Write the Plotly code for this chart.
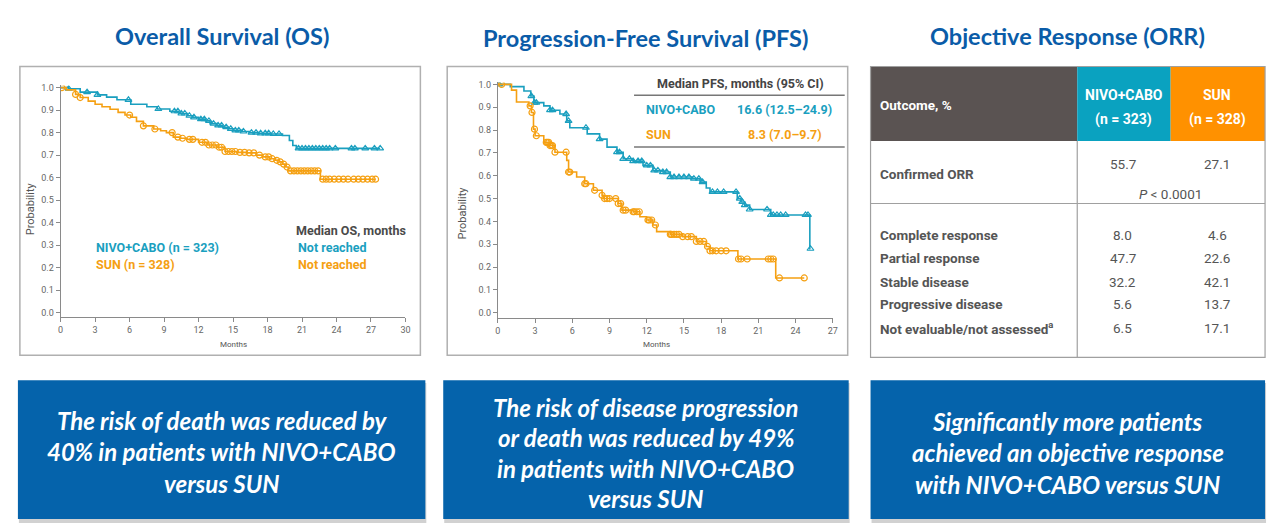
import plotly.graph_objects as go

# ---------------- DATA ----------------
# Overall survival (months, probability) step points
OS_NC_T = [0, 0.7, 1.7, 3.2, 4.0, 4.9, 6.1, 7.5, 8.4, 9.5, 10.3, 11.0, 11.5, 12.0, 12.6, 13.0, 13.6, 14.1, 14.6, 15.0, 15.8, 16.4, 17.2, 18.2, 19.3, 19.9, 20.2, 20.5, 27.8]
OS_NC_S = [1.0, 0.995, 0.98, 0.968, 0.958, 0.946, 0.926, 0.915, 0.905, 0.895, 0.885, 0.875, 0.868, 0.86, 0.852, 0.84, 0.832, 0.824, 0.817, 0.81, 0.805, 0.80, 0.797, 0.794, 0.787, 0.765, 0.743, 0.73, 0.73]
OS_NC_CENS = [0.7, 2.3, 3.2, 5.9, 8.5, 9.9, 10.2, 10.5, 10.8, 11.2, 11.6, 12.2, 12.5, 12.9, 13.3, 13.7, 14.0, 14.4, 14.8, 15.2, 15.5, 15.9, 16.6, 17.0, 17.4, 17.8, 18.1, 18.5, 19.0, 20.7, 21.0, 21.3, 21.6, 21.9, 22.2, 22.5, 22.8, 23.1, 23.4, 23.9, 25.3, 25.6, 26.5, 27.3, 27.8]

OS_SUN_T = [0, 0.5, 1.3, 1.7, 2.4, 3.0, 3.6, 4.3, 5.0, 5.6, 6.1, 6.6, 7.2, 8.1, 8.7, 9.2, 9.8, 10.4, 11.0, 12.0, 12.8, 13.6, 14.3, 15.3, 16.2, 17.0, 17.6, 18.2, 18.7, 19.0, 19.3, 19.6, 19.8, 22.6, 27.4]
OS_SUN_S = [1.0, 0.99, 0.97, 0.956, 0.94, 0.926, 0.915, 0.904, 0.89, 0.878, 0.868, 0.85, 0.83, 0.816, 0.808, 0.80, 0.78, 0.775, 0.77, 0.757, 0.745, 0.735, 0.716, 0.712, 0.71, 0.70, 0.692, 0.684, 0.677, 0.67, 0.66, 0.647, 0.63, 0.593, 0.593]
OS_SUN_CENS = [0.1, 1.3, 1.7, 6.0, 7.2, 8.2, 9.7, 10.2, 10.6, 11.2, 11.5, 12.3, 12.6, 12.9, 13.2, 13.5, 13.8, 14.0, 14.3, 14.6, 14.9, 15.2, 15.6, 16.0, 16.4, 16.8, 17.3, 17.8, 18.1, 18.4, 18.8, 19.1, 19.4, 19.7, 20.0, 20.3, 20.6, 20.9, 21.2, 21.5, 21.8, 22.1, 22.4, 22.8, 23.1, 23.4, 23.8, 24.2, 24.6, 25.0, 25.5, 25.9, 26.3, 26.7, 27.1, 27.4]

# Progression-free survival
PFS_NC_T = [0, 1.0, 2.1, 2.65, 2.9, 3.7, 4.2, 5.0, 5.55, 5.8, 7.2, 8.2, 8.8, 9.6, 10.1, 10.9, 11.7, 12.5, 13.3, 13.9, 15.7, 16.3, 16.8, 17.1, 19.3, 19.6, 19.9, 20.3, 22.0, 25.15, 25.2]
PFS_NC_S = [1.0, 0.99, 0.971, 0.949, 0.92, 0.906, 0.887, 0.87, 0.84, 0.81, 0.783, 0.76, 0.725, 0.703, 0.674, 0.664, 0.645, 0.623, 0.616, 0.594, 0.587, 0.572, 0.546, 0.529, 0.5, 0.485, 0.471, 0.452, 0.428, 0.28, 0.28]
PFS_NC_CENS = [0.1, 2.7, 2.95, 3.1, 4.2, 4.4, 5.5, 5.7, 7.1, 8.2, 9.6, 9.8, 10.1, 10.6, 10.9, 11.3, 11.6, 12.0, 12.3, 12.6, 12.9, 13.3, 13.6, 13.9, 14.2, 14.6, 15.0, 15.4, 15.8, 16.2, 16.5, 17.3, 17.7, 18.2, 19.2, 19.5, 19.7, 19.9, 20.3, 21.7, 22.0, 22.2, 22.5, 22.8, 23.2, 24.8, 25.0, 25.2]

PFS_SUN_T = [0, 1.1, 1.5, 2.5, 2.7, 2.87, 3.0, 3.7, 4.2, 4.6, 5.55, 5.7, 6.35, 7.0, 7.7, 8.4, 8.5, 9.7, 10.0, 10.9, 11.45, 12.0, 12.5, 12.8, 13.9, 14.9, 16.0, 16.8, 17.1, 19.35, 22.4, 24.7]
PFS_SUN_S = [1.0, 0.975, 0.923, 0.906, 0.877, 0.804, 0.775, 0.746, 0.732, 0.703, 0.667, 0.616, 0.594, 0.565, 0.536, 0.514, 0.5, 0.478, 0.449, 0.442, 0.42, 0.406, 0.384, 0.355, 0.343, 0.333, 0.312, 0.29, 0.271, 0.235, 0.152, 0.152]
PFS_SUN_CENS = [0.3, 2.6, 2.75, 2.95, 3.1, 3.9, 4.0, 4.1, 4.2, 4.3, 4.4, 4.6, 5.5, 5.7, 5.8, 7.0, 7.1, 7.8, 8.4, 8.6, 8.8, 9.0, 9.5, 9.7, 9.9, 10.1, 10.3, 10.9, 11.0, 11.2, 11.4, 12.1, 12.2, 12.4, 12.7, 13.9, 14.0, 14.2, 14.4, 14.6, 14.9, 15.3, 15.6, 16.0, 16.3, 16.6, 16.9, 17.1, 17.3, 17.6, 18.0, 18.4, 19.4, 19.6, 20.1, 21.8, 22.0, 22.2, 22.7, 24.7]

# Objective response table
ORR_HEADERS = ["Outcome, %", ["NIVO+CABO", "(n = 323)"], ["SUN", "(n = 328)"]]
ORR_MAIN = ("Confirmed ORR", "55.7", "27.1", "<i>P</i> < 0.0001")
ORR_ROWS = ["Complete response", "Partial response", "Stable disease", "Progressive disease", "Not evaluable/not assessed<sup>a</sup>"]
ORR_NIVO = ["8.0", "47.7", "32.2", "5.6", "6.5"]
ORR_SUN = ["4.6", "22.6", "42.1", "13.7", "17.1"]

TITLES = ["Overall Survival (OS)", "Progression-Free Survival (PFS)", "Objective Response (ORR)"]
BOX_LINES = [
    ["The risk of death was reduced by", "40% in patients with NIVO+CABO", "versus SUN"],
    ["The risk of disease progression", "or death was reduced by 49%", "in patients with NIVO+CABO", "versus SUN"],
    ["Significantly more patients", "achieved an objective response", "with NIVO+CABO versus SUN"],
]

# ---------------- STYLE ----------------
W, H = 1280, 532
TEAL = "#1a9fbf"
ORANGE = "#f5a012"
TEAL_HDR = "#0aa2c0"
ORANGE_HDR = "#ff9100"
DARK_HDR = "#5a5352"
BLUE = "#0a5ca8"
BOX = "#0563ab"
GRAY_TXT = "#555555"
NARROW = "Liberation Sans Narrow, Arial Narrow, Roboto, sans-serif"
TITLE_FONT = "Lato, Open Sans, sans-serif"


def px(x):
    return x / W


def py(y):
    return 1 - y / H


def step_val(ts, ss, t):
    v = ss[0]
    for ti, si in zip(ts, ss):
        if ti <= t:
            v = si
        else:
            break
    return v


fig = go.Figure()


def km(ts, ss, cens, color, symbol, xa, ya):
    fig.add_trace(go.Scatter(x=ts, y=ss, mode="lines", line=dict(color=color, width=1.6, shape="hv"),
                             xaxis=xa, yaxis=ya, showlegend=False, hoverinfo="skip"))
    fig.add_trace(go.Scatter(x=cens, y=[step_val(ts, ss, c) for c in cens], mode="markers",
                             marker=dict(symbol=symbol, size=6, color=color, line=dict(color=color, width=1.2)),
                             xaxis=xa, yaxis=ya, showlegend=False, hoverinfo="skip"))


km(OS_NC_T, OS_NC_S, OS_NC_CENS, TEAL, "triangle-up-open", "x", "y")
km(OS_SUN_T, OS_SUN_S, OS_SUN_CENS, ORANGE, "circle-open", "x", "y")
km(PFS_NC_T, PFS_NC_S, PFS_NC_CENS, TEAL, "triangle-up-open", "x2", "y2")
km(PFS_SUN_T, PFS_SUN_S, PFS_SUN_CENS, ORANGE, "circle-open", "x2", "y2")

axis_common = dict(showline=True, linecolor="#8a8a8a", linewidth=1.2, ticks="outside", ticklen=4,
                   tickcolor="#8a8a8a", showgrid=False, zeroline=False,
                   tickfont=dict(family=NARROW, size=9, color="#666"))

fig.update_layout(
    width=W, height=H, margin=dict(l=0, r=0, t=0, b=0), autosize=False,
    paper_bgcolor="white", plot_bgcolor="white",
    xaxis=dict(domain=[px(58), px(405)], range=[0, 30], tickvals=list(range(0, 31, 3)), anchor="y", **axis_common),
    yaxis=dict(domain=[py(316), py(83)], range=[-0.018, 1.01], tickvals=[i / 10 for i in range(11)],
               tickformat=".1f", anchor="x", **axis_common),
    xaxis2=dict(domain=[px(498), px(835)], range=[0, 27], tickvals=list(range(0, 28, 3)), anchor="y2", **axis_common),
    yaxis2=dict(domain=[py(317), py(80)], range=[-0.0217, 1.0087], tickvals=[i / 10 for i in range(11)],
                tickformat=".1f", anchor="x2", **axis_common),
)

shapes = []
ann = []


def rect(x0, y0, x1, y1, fill=None, line=None, lw=1):
    shapes.append(dict(type="rect", xref="paper", yref="paper", x0=px(x0), x1=px(x1), y0=py(y1), y1=py(y0),
                       fillcolor=fill if fill else "rgba(0,0,0,0)",
                       line=dict(color=line if line else "rgba(0,0,0,0)", width=lw), layer="below"))


def hline(x0, x1, y, color, lw=1):
    shapes.append(dict(type="line", xref="paper", yref="paper", x0=px(x0), x1=px(x1), y0=py(y), y1=py(y),
                       line=dict(color=color, width=lw)))


def vline(x, y0, y1, color, lw=1):
    shapes.append(dict(type="line", xref="paper", yref="paper", x0=px(x), x1=px(x), y0=py(y0), y1=py(y1),
                       line=dict(color=color, width=lw)))


def text(x, y, s, size, color, family=NARROW, anchor="left", angle=0):
    ann.append(dict(xref="paper", yref="paper", x=px(x), y=py(y), text=s, showarrow=False,
                    xanchor=anchor, yanchor="middle", textangle=angle,
                    font=dict(family=family, size=size, color=color)))


# Titles
text(220, 33, "<b>" + TITLES[0] + "</b>", 23.5, BLUE, TITLE_FONT, "center")
text(647, 35, "<b>" + TITLES[1] + "</b>", 23.5, BLUE, TITLE_FONT, "center")
text(1071, 33, "<b>" + TITLES[2] + "</b>", 23.5, BLUE, TITLE_FONT, "center")

# Panel frames
rect(17, 64, 420, 355, line="#b0b0b0", lw=1.5)
rect(447, 64, 850, 355, line="#b0b0b0", lw=1.5)

# OS panel texts
text(28, 207, "Probability", 11, GRAY_TXT, angle=-90, anchor="center")
text(232, 344, "Months", 8, GRAY_TXT, anchor="center")
text(92, 246, "<b>NIVO+CABO (n = 323)</b>", 12.5, TEAL)
text(92, 263, "<b>SUN (n = 328)</b>", 12.5, ORANGE)
text(293, 229, "<b>Median OS, months</b>", 12.5, "#4a4a4a")
text(295, 246, "<b>Not reached</b>", 12.5, TEAL)
text(295, 263, "<b>Not reached</b>", 12.5, ORANGE)

# PFS panel texts
text(462, 212, "Probability", 11, GRAY_TXT, angle=-90, anchor="center")
text(658, 344, "Months", 8, GRAY_TXT, anchor="center")
text(742, 81, "<b>Median PFS, months (95% CI)</b>", 12.5, "#444", anchor="center")
hline(635, 847, 93, "#777", 1.5)
text(645, 107, "<b>NIVO+CABO</b>", 12.5, TEAL)
text(836, 107, "<b>16.6 (12.5–24.9)</b>", 12.5, TEAL, anchor="right")
text(645, 132, "<b>SUN</b>", 12.5, ORANGE)
text(826, 132, "<b>8.3 (7.0–9.7)</b>", 12.5, ORANGE, anchor="right")
hline(635, 847, 145, "#777", 1.5)

# ORR table
rect(873, 64, 1081, 139, fill=DARK_HDR)
rect(1081, 64, 1175, 139, fill=TEAL_HDR)
rect(1175, 64, 1270, 139, fill=ORANGE_HDR)
rect(873, 64, 1270, 357, line="#a0a0a0", lw=1.2)
hline(873, 1270, 202, "#a0a0a0", 1.2)
vline(1081, 139, 357, "#a0a0a0", 1.2)

text(880, 103, "<b>" + ORR_HEADERS[0] + "</b>", 13.5, "white")
for cx, hdr in zip([1128, 1222], ORR_HEADERS[1:]):
    text(cx, 93, "<b>" + hdr[0] + "</b>", 14, "white", anchor="center")
    text(cx, 117, "<b>" + hdr[1] + "</b>", 14, "white", anchor="center")

text(880, 172, "<b>" + ORR_MAIN[0] + "</b>", 13.5, GRAY_TXT)
text(1127, 162, ORR_MAIN[1], 13.5, GRAY_TXT, anchor="center")
text(1222, 162, ORR_MAIN[2], 13.5, GRAY_TXT, anchor="center")
text(1175, 192, ORR_MAIN[3], 13.5, GRAY_TXT, anchor="center")

row_y = [234, 257, 281, 303, 327]
for lab, a, b, yy in zip(ORR_ROWS, ORR_NIVO, ORR_SUN, row_y):
    text(880, yy, "<b>" + lab + "</b>", 13.5, GRAY_TXT)
    text(1127, yy, a, 13.5, GRAY_TXT, anchor="center")
    text(1222, yy, b, 13.5, GRAY_TXT, anchor="center")

# Bottom blue boxes with shadows
boxes = [(15, 425), (443, 851), (873, 1270)]
line_ys = [[421, 452, 484], [408, 438, 469, 499], [422, 453, 485]]
for (x0, x1), lines, ys in zip(boxes, BOX_LINES, line_ys):
    rect(x0 + 1, 383, x1 + 1, 524, fill="rgba(0,0,0,0.18)")
    rect(x0, 380, x1, 520, fill=BOX)
    for s, yy in zip(lines, ys):
        text((x0 + x1) / 2, yy, "<b><i>" + s + "</i></b>", 24, "white", TITLE_FONT, "center")

fig.update_layout(shapes=shapes, annotations=ann)
fig.write_html("out.html", config={"displayModeBar": False},
               post_script="document.body.style.margin='0';document.body.style.overflow='hidden';")
